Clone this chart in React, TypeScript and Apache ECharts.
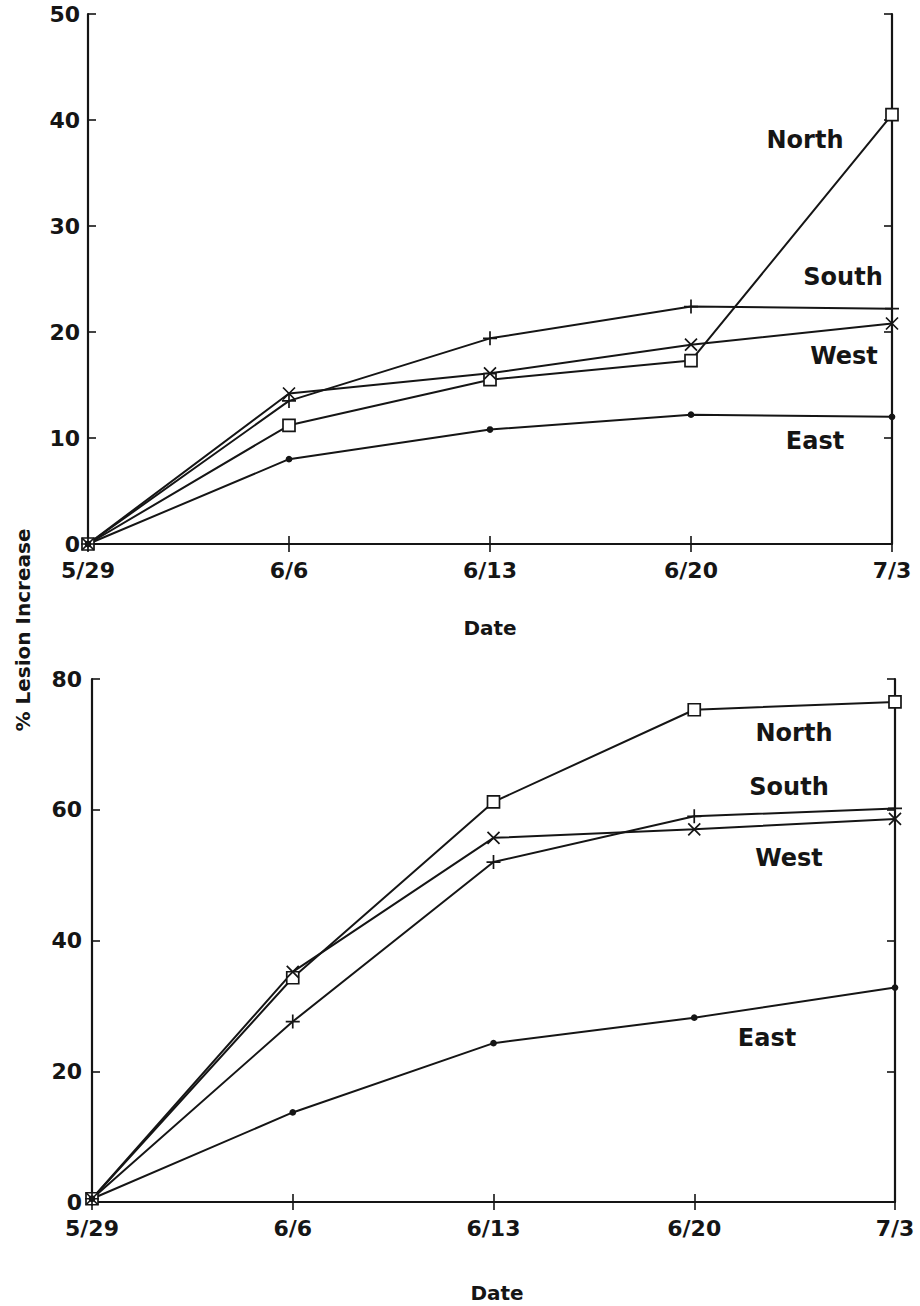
import React, { useEffect, useRef } from 'react';
import * as echarts from 'echarts';

const dates = ['5/29', '6/6', '6/13', '6/20', '7/3'];

// Top panel
const northTop = [0, 11.2, 15.5, 17.3, 40.5];
const southTop = [0, 13.5, 19.4, 22.4, 22.2];
const westTop = [0, 14.2, 16.1, 18.8, 20.8];
const eastTop = [0, 8.0, 10.8, 12.2, 12.0];

// Bottom panel
const northBot = [0.5, 34.3, 61.2, 75.3, 76.5];
const southBot = [0.5, 27.6, 52.0, 59.0, 60.2];
const westBot = [0.5, 35.2, 55.7, 57.0, 58.6];
const eastBot = [0.5, 13.7, 24.3, 28.2, 32.8];

const seriesNames = ['North', 'South', 'West', 'East'];

const FONT = 'DejaVu Sans';
const INK = '#151515';

const PLUS = 'path://M6,0L6,12M0,6L12,6';
const CROSS = 'path://M0,0L12,12M12,0L0,12';

export default function App() {
  const ref = useRef<HTMLDivElement>(null);

  useEffect(() => {
    const chart = echarts.init(ref.current!, null, { renderer: 'svg' });

    const grids = [
      { left: 88, right: 28, top: 14, height: 530 },
      { left: 92, right: 25, top: 679, height: 523 },
    ];

    const tickStyle = { show: true, inside: true, length: 8, lineStyle: { color: INK, width: 1.6 } };
    const lineStyle = { color: INK, width: 2.2 };
    const labelStyle = { fontFamily: FONT, fontWeight: 'bold' as const, fontSize: 22, color: INK };

    const xAxes: any[] = [];
    const yAxes: any[] = [];
    [0, 1].forEach((g) => {
      xAxes.push({
        type: 'category', gridIndex: g, data: dates, boundaryGap: false, position: 'bottom',
        axisLine: { show: true, lineStyle }, axisTick: tickStyle,
        axisLabel: { ...labelStyle, margin: 15 }, splitLine: { show: false },
      });
      xAxes.push({
        type: 'category', gridIndex: g, data: dates, boundaryGap: false, position: 'top',
        axisLine: { show: true, lineStyle }, axisTick: tickStyle,
        axisLabel: { show: false }, splitLine: { show: false },
      });
      const max = g === 0 ? 50 : 80;
      const interval = g === 0 ? 10 : 20;
      yAxes.push({
        type: 'value', gridIndex: g, min: 0, max, interval, position: 'left',
        axisLine: { show: true, lineStyle }, axisTick: tickStyle,
        axisLabel: { ...labelStyle, margin: g === 0 ? 8 : 10 }, splitLine: { show: false },
      });
      yAxes.push({
        type: 'value', gridIndex: g, min: 0, max, interval, position: 'right',
        axisLine: { show: true, lineStyle }, axisTick: tickStyle,
        axisLabel: { show: false }, splitLine: { show: false },
      });
    });

    const mk = (name: string, data: number[], g: number, symbol: string, size: number, fill: string) => ({
      name,
      type: 'line',
      xAxisIndex: g * 2,
      yAxisIndex: g * 2,
      data,
      symbol,
      symbolSize: size,
      showAllSymbol: true,
      clip: false,
      lineStyle: { color: INK, width: 2 },
      itemStyle: { color: fill, borderColor: INK, borderWidth: 1.7 },
      z: 3,
    });

    const series: any[] = [];
    const panels = [
      [northTop, southTop, westTop, eastTop],
      [northBot, southBot, westBot, eastBot],
    ];
    panels.forEach((p, g) => {
      series.push(mk(seriesNames[0], p[0], g, 'rect', 12, '#ffffff'));
      series.push(mk(seriesNames[1], p[1], g, PLUS, 14, '#ffffff'));
      series.push(mk(seriesNames[2], p[2], g, CROSS, 12, '#ffffff'));
      series.push(mk(seriesNames[3], p[3], g, 'circle', 5, INK));
    });

    const txt = (text: string, x: number, y: number, size = 24, rotation = 0) => ({
      type: 'text',
      x, y, rotation,
      style: {
        text, fontFamily: FONT, fontWeight: 'bold', fontSize: size, fill: INK,
        textAlign: 'center', textVerticalAlign: 'middle',
      },
      z: 10,
    });

    const graphic = [
      txt('North', 805, 140),
      txt('South', 843, 277),
      txt('West', 844, 356),
      txt('East', 815, 441),
      txt('North', 794, 733),
      txt('South', 789, 787),
      txt('West', 789, 858),
      txt('East', 767, 1038),
      txt('Date', 490, 628, 20),
      txt('Date', 497, 1293, 20),
      txt('% Lesion Increase', 23, 630, 20, Math.PI / 2),
    ];

    chart.setOption({
      animation: false,
      backgroundColor: '#ffffff',
      grid: grids,
      xAxis: xAxes,
      yAxis: yAxes,
      series,
      graphic,
    });

    return () => chart.dispose();
  }, []);

  return (
    <div
      ref={ref}
      style={{ position: 'absolute', left: 0, top: 0, width: 920, height: 1306, background: '#fff' }}
    />
  );
}
